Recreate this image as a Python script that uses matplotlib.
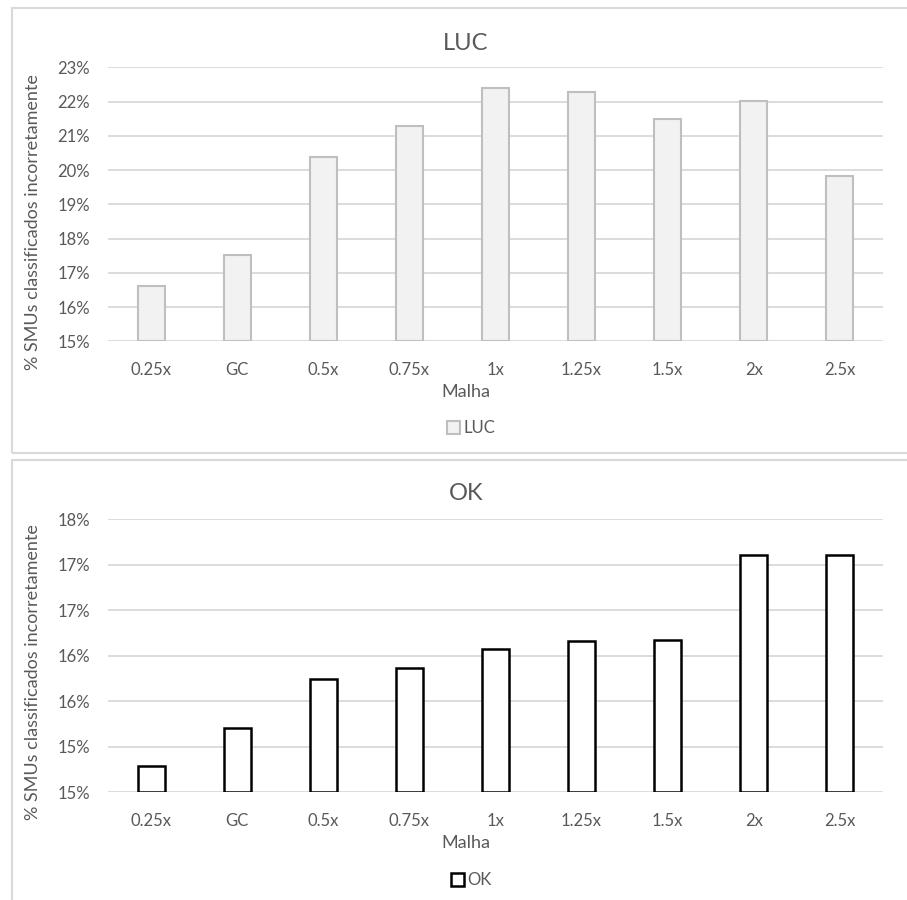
import numpy as np
import matplotlib
matplotlib.use("Agg")
import matplotlib.pyplot as plt
from matplotlib.patches import Rectangle

plt.rcParams['font.family'] = ['Lato', 'DejaVu Sans']

categories = ['0.25x', 'GC', '0.5x', '0.75x', '1x', '1.25x', '1.5x', '2x', '2.5x']
luc = [16.62, 17.52, 20.39, 21.29, 22.39, 22.28, 21.49, 22.01, 19.84]
ok = [15.29, 15.71, 16.24, 16.36, 16.57, 16.66, 16.67, 17.61, 17.60]

luc_ticks = [15, 16, 17, 18, 19, 20, 21, 22, 23]
luc_ticklabels = ['15%', '16%', '17%', '18%', '19%', '20%', '21%', '22%', '23%']
ok_ticks = [15, 15.5, 16, 16.5, 17, 17.5, 18]
ok_ticklabels = ['15%', '15%', '16%', '16%', '17%', '17%', '18%']

W, H = 907, 900
txt = '#595959'
grid = '#d9d9d9'

fig = plt.figure(figsize=(W / 100, H / 100), dpi=100)

# chart borders
fig.add_artist(Rectangle((12 / W, 1 - 453 / H), (925 - 12) / W, (453 - 8) / H,
                         transform=fig.transFigure, fill=False, ec=grid, lw=1.5))
fig.add_artist(Rectangle((12 / W, 1 - 910 / H), (925 - 12) / W, (910 - 460) / H,
                         transform=fig.transFigure, fill=False, ec=grid, lw=1.5))


def panel(top, bottom, vals, ticks, ticklabels, title, fc, ec, lw, ylab_y, title_y, xl_y, leg_y):
    ax = fig.add_axes([108.3 / W, 1 - bottom / H, (882.7 - 108.3) / W, (bottom - top) / H])
    x = np.arange(len(categories))
    ax.bar(x, np.array(vals) - ticks[0], bottom=ticks[0], width=0.32,
           color=fc, edgecolor=ec, linewidth=lw, zorder=3)
    ax.set_xlim(-0.5, len(categories) - 0.5)
    ax.set_ylim(ticks[0], ticks[-1])
    ax.set_yticks(ticks)
    ax.set_yticklabels(ticklabels)
    ax.set_xticks(x)
    ax.set_xticklabels(categories)
    ax.tick_params(length=0, labelsize=12, labelcolor=txt)
    ax.tick_params(axis='y', pad=13)
    ax.tick_params(axis='x', pad=15)
    for s in ax.spines.values():
        s.set_visible(False)
    ax.grid(axis='y', color=grid, lw=1.3, zorder=0)
    ax.set_axisbelow(True)

    cx = 466 / W
    fig.text(cx, 1 - title_y / H, title, ha='center', va='center', fontsize=17, color=txt)
    fig.text(33 / W, 1 - ylab_y / H, '% SMUs classificados incorretamente', rotation=90,
             ha='center', va='center', fontsize=13, color=txt)
    fig.text(cx, 1 - xl_y / H, 'Malha', ha='center', va='center', fontsize=13, color=txt)
    h = Rectangle((0, 0), 1, 1, fc=fc, ec=ec, lw=lw)
    fig.legend([h], [title], loc='center', bbox_to_anchor=(471 / W, 1 - leg_y / H),
               frameon=False, fontsize=12, labelcolor=txt, handlelength=0.8,
               handleheight=0.8, handletextpad=0.2, borderpad=0)
    return ax


panel(67.3, 341.3, luc, luc_ticks, luc_ticklabels, 'LUC', '#f2f2f2', '#bfbfbf', 1.5,
      222, 43, 392, 428)
panel(519, 792.3, ok, ok_ticks, ok_ticklabels, 'OK', 'white', 'black', 1.8,
      672, 493, 843, 880)

fig.savefig('out.png', dpi=100)
